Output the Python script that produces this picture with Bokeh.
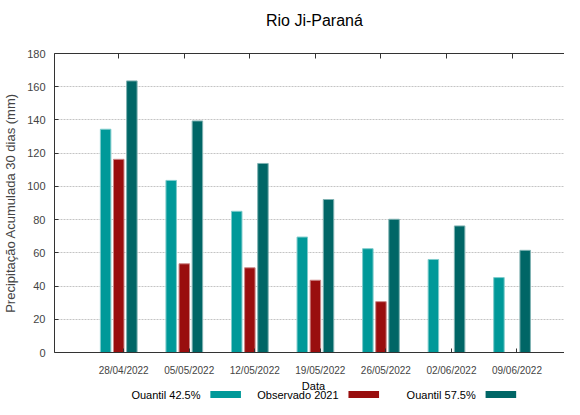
from bokeh.plotting import figure
from bokeh.layouts import column
from bokeh.models import (FixedTicker, LinearAxis, Range1d, ColumnDataSource)
from bokeh.core.properties import value
from bokeh.embed import file_html
from bokeh.resources import INLINE

# ---- data ----
dates = ["28/04/2022", "05/05/2022", "12/05/2022", "19/05/2022",
         "26/05/2022", "02/06/2022", "09/06/2022"]
q425 = [134.4, 103.6, 85.0, 69.5, 62.5, 56.0, 45.1]
obs2021 = [116.3, 53.4, 51.0, 43.5, 30.6, None, None]
q575 = [163.5, 139.4, 113.8, 92.1, 80.2, 76.2, 61.5]
series_names = ["Quantil 42.5%", "Observado 2021", "Quantil 57.5%"]
y_ticks = [0, 20, 40, 60, 80, 100, 120, 140, 160, 180]

title_text = "Rio Ji-Paraná"
x_label = "Data"
y_label = "Precipitação Acumulada 30 dias (mm)"

colors = ["#009999", "#990e0e", "#006666"]
edges = ["#7fcccc", "#cc8787", "#7fb2b2"]

FONT = "Liberation Sans"
W = 564
LEFT = 47
H_TITLE = 38
H_MAIN = 340
H_LEG = 21

idx = list(range(len(dates)))
offsets = [-0.2, 0.0, 0.2]
bar_w = 0.16


def strip(height):
    f = figure(width=W, height=height, output_backend="svg", toolbar_location=None,
               title=None, x_range=Range1d(LEFT, W), y_range=Range1d(0, height),
               min_border_left=LEFT, min_border_right=0, min_border_top=0,
               min_border_bottom=0, x_axis_location=None, y_axis_location=None)
    f.outline_line_color = None
    f.grid.visible = False
    f.background_fill_color = "white"
    f.border_fill_color = "white"
    return f


# ---- title strip ----
top = strip(H_TITLE)
top.text(x=[310.5], y=[H_TITLE - 20], text=[title_text], text_align="center",
         text_baseline="middle", text_font=value(FONT), text_font_size="16px",
         text_color="#000000")

# ---- main plot ----
p = figure(width=W, height=H_MAIN, output_backend="svg", toolbar_location=None,
           title=None, x_range=Range1d(-0.98, 6.80), y_range=Range1d(0, 180),
           min_border_left=LEFT, min_border_right=0, min_border_top=15,
           min_border_bottom=20, x_axis_location=None, y_axis_location=None)
p.outline_line_color = None
p.background_fill_color = "white"
p.border_fill_color = "white"

all_series = [q425, obs2021, q575]
for k, vals in enumerate(all_series):
    xs = [i + offsets[k] for i, v in zip(idx, vals) if v is not None]
    ys = [v for v in vals if v is not None]
    src = ColumnDataSource(dict(x=xs, top=ys))
    p.vbar(x="x", top="top", bottom=0, width=bar_w, source=src,
           fill_color=colors[k], line_color=edges[k], line_width=1)

# y axis
yax = LinearAxis(ticker=FixedTicker(ticks=y_ticks))
yax.axis_label = y_label
yax.axis_label_text_font = FONT
yax.axis_label_text_font_size = "13px"
yax.axis_label_text_font_style = "normal"
yax.axis_label_standoff = 6
yax.major_label_text_font = FONT
yax.major_label_text_font_size = "11px"
yax.major_label_standoff = 9
yax.major_tick_in = 4
yax.major_tick_out = 0
yax.minor_tick_line_color = None
yax.axis_line_color = "#333333"
yax.major_tick_line_color = "#333333"
p.add_layout(yax, "left")

# bottom axis (labels slightly right of the category centre, as in the source)
lab_shift = 0.075
xax = LinearAxis(ticker=FixedTicker(ticks=[i + lab_shift for i in idx]))
xax.major_label_overrides = {i + lab_shift: d for i, d in zip(idx, dates)}
xax.major_label_text_font = FONT
xax.major_label_text_font_size = "10px"
xax.major_label_standoff = 12
xax.major_tick_in = 4
xax.major_tick_out = 0
xax.minor_tick_line_color = None
xax.axis_line_color = "#333333"
xax.major_tick_line_color = "#333333"
p.add_layout(xax, "below")

# top axis: ticks only
tax = LinearAxis(ticker=FixedTicker(ticks=idx))
tax.major_label_overrides = {i: "" for i in idx}
tax.major_label_text_font_size = "0px"
tax.major_label_standoff = 0
tax.major_tick_in = 5
tax.major_tick_out = 0
tax.minor_tick_line_color = None
tax.axis_line_color = "#333333"
tax.major_tick_line_color = "#333333"
p.add_layout(tax, "above")

p.xgrid.visible = False
p.ygrid.ticker = FixedTicker(ticks=y_ticks)
p.ygrid.grid_line_color = "#c4c4c4"
p.ygrid.grid_line_dash = "2 1"
p.ygrid.grid_line_width = 1

# ---- strip under the plot: x-axis title and legend (label, then swatch) ----
leg = strip(H_LEG)
frame_center_x = LEFT + (W - LEFT) / 2
leg.text(x=[frame_center_x + 4], y=[14], text=[x_label], text_align="center",
         text_baseline="middle", text_font=value(FONT), text_font_size="11px",
         text_color="#000000")

text_right = [195, 335, 474]
sw_left = [r + 10 for r in text_right]
leg_y = 5
leg.text(x=text_right, y=[leg_y] * 3, text=series_names,
         text_align="right", text_baseline="middle",
         text_font=value(FONT), text_font_size="11px", text_color="#000000")
leg.quad(left=sw_left, right=[l + 31 for l in sw_left],
         bottom=[leg_y - 3.5] * 3, top=[leg_y + 3.5] * 3,
         fill_color=colors, line_color=None)

layout = column(top, p, leg, spacing=0)
open("out.html", "w").write(file_html(layout, INLINE))
